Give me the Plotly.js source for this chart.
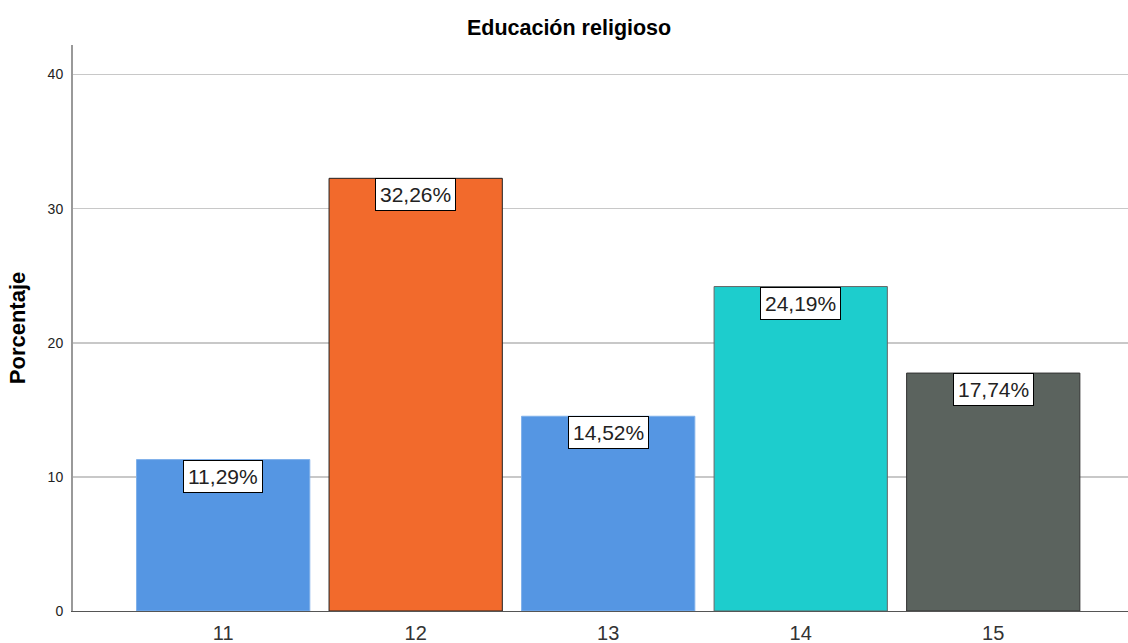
<!DOCTYPE html>
<html>
<head>
<meta charset="utf-8">
<script src="https://cdn.plot.ly/plotly-3.0.1.min.js"></script>
<style>
	html, body { margin: 0; padding: 0; background: #fff; }
	#chart { width: 1128px; height: 643px; }
</style>
</head>
<body>
<div id="chart"></div>
<script>
// categories and percentages
const categories = [ '11', '12', '13', '14', '15' ];
const percentages = [ 11.29, 32.26, 14.52, 24.19, 17.74 ];
const barColors = [ '#5596e3', '#f26a2c', '#5596e3', '#1dcdcd', '#5b635e' ];
const barLines = [ '#7fb0ea', '#222222', '#7fb0ea', '#666666', '#333333' ];
const yTicks = [ 0, 10, 20, 30, 40 ];

const fontFamily = 'Liberation Sans, Arial, sans-serif';

// percent label as "11,29%"
const fmt = v => v.toFixed(2).replace('.', ',') + '%';

const data = [{
	type: 'bar',
	x: categories,
	y: percentages,
	width: 0.9,
	marker: {
		color: barColors,
		line: { color: barLines, width: 1 }
	},
	hoverinfo: 'skip',
	showlegend: false
}];

/**
 * White boxed value labels hanging from each bar top
 * (category axis: numeric-looking names would be read as serials, so use the index)
 */
const annotations = categories.map(( c, i ) => ({
	x: i,
	y: percentages[i],
	yanchor: 'top',
	xanchor: 'center',
	text: fmt(percentages[i]),
	showarrow: false,
	bgcolor: '#ffffff',
	bordercolor: '#000000',
	borderwidth: 1,
	borderpad: 4,
	font: { family: fontFamily, size: 21, color: '#222' }
}));

const layout = {
	width: 1128,
	height: 643,
	margin: { l: 73, r: 0, t: 45, b: 32 },
	paper_bgcolor: '#fff',
	plot_bgcolor: '#fff',
	font: { family: fontFamily, color: '#222' },
	title: {
		text: '<b>Educación religioso</b>',
		font: { family: fontFamily, size: 21.5, color: '#000' },
		x: 0.5045,
		xref: 'container',
		xanchor: 'center',
		y: 0.957,
		yanchor: 'middle'
	},
	bargap: 0.1,
	xaxis: {
		type: 'category',
		range: [ -0.78, 4.7 ],
		showgrid: false,
		showline: true,
		linecolor: '#555',
		linewidth: 1,
		ticks: '',
		ticklabelstandoff: 4,
		tickfont: { family: fontFamily, size: 20, color: '#333' },
		fixedrange: true
	},
	yaxis: {
		range: [ 0, 42.2 ],
		tickvals: yTicks,
		ticktext: yTicks.map(String),
		showgrid: true,
		gridcolor: '#c8c8c8',
		gridwidth: 1.5,
		zeroline: false,
		showline: true,
		linecolor: '#999',
		linewidth: 2,
		ticks: '',
		ticklabelstandoff: 5,
		tickfont: { family: fontFamily, size: 14, color: '#222' },
		title: {
			text: '<b>Porcentaje</b>',
			font: { family: fontFamily, size: 22, color: '#000' },
			standoff: 16
		},
		fixedrange: true
	},
	annotations
};

Plotly.newPlot('chart', data, layout, { displayModeBar: false, staticPlot: true });
</script>
</body>
</html>
